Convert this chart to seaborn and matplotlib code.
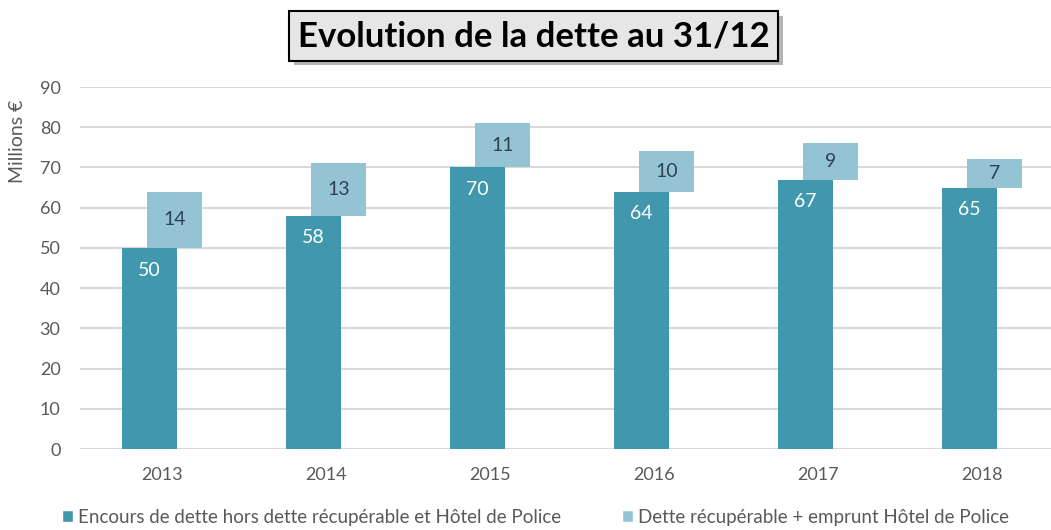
import matplotlib
matplotlib.use("Agg")
import matplotlib.pyplot as plt
import matplotlib.patheffects as pe
from matplotlib.patches import Patch
import numpy as np
import pandas as pd
import seaborn as sns

years = ["2013", "2014", "2015", "2016", "2017", "2018"]
encours = [50, 58, 70, 64, 67, 65]
recup = [14, 13, 11, 10, 9, 7]
serie_names = ["Encours de dette hors dette récupérable et Hôtel de Police",
               "Dette récupérable + emprunt Hôtel de Police"]

dark = "#4197ad"
light = "#94c3d4"
grey_txt = "#595959"

sns.set_style("white")
plt.rcParams["font.family"] = ["Lato", "DejaVu Sans"]

df = pd.DataFrame({"annee": years, "encours": encours, "recup": recup})

fig = plt.figure(figsize=(10.51, 5.30), dpi=100)
ax = fig.add_axes([80 / 1051, 81 / 530, 984 / 1051, 362 / 530])

w = 0.335
off = 0.076
sns.barplot(data=df, x="annee", y="encours", color=dark, width=w,
            saturation=1, linewidth=0, ax=ax, zorder=3)
n = len(ax.patches)
sns.barplot(data=df, x="annee", y="recup", color=light, width=w,
            saturation=1, linewidth=0, ax=ax, zorder=3,
            bottom=df["encours"].values)

for i, p in enumerate(ax.patches):
    if i < n:
        p.set_x(p.get_x() - off)
    else:
        p.set_x(p.get_x() + off)

# etiquettes
for i, p in enumerate(ax.patches):
    cx = p.get_x() + p.get_width() / 2
    if i < n:
        ax.annotate(f"{encours[i]}", (cx, p.get_y() + p.get_height()),
                    xytext=(0, -16), textcoords="offset points",
                    ha="center", va="center", color="white", fontsize=14,
                    zorder=5)
    else:
        j = i - n
        ax.annotate(f"{recup[j]}", (cx, p.get_y() + p.get_height() / 2),
                    ha="center", va="center", color="#2f4252", fontsize=14,
                    zorder=5)

ax.set_xlim(-0.5, 5.5)
ax.set_ylim(0, 90)
ax.set_yticks(range(0, 91, 10))
ax.yaxis.grid(True, color="#d9d9d9", linewidth=1.5, zorder=0)
ax.set_axisbelow(True)
sns.despine(ax=ax, left=True, bottom=True, top=True, right=True)
ax.tick_params(axis="both", length=0, labelsize=13, labelcolor=grey_txt)
ax.tick_params(axis="y", pad=14)
ax.tick_params(axis="x", pad=13)
ax.set_xlabel("")
ax.set_ylabel("")

fig.text(0.0167, 0.734, "Millions €", rotation=90, ha="center", va="center",
         fontsize=14, color=grey_txt)

t = fig.text(0.508, 0.932, "Evolution de la dette au 31/12", ha="center",
             va="center", fontsize=25, fontweight="bold", color="black",
             bbox=dict(boxstyle="square,pad=0.25", facecolor="#e6e6e6",
                       edgecolor="black", linewidth=1.5))
t.get_bbox_patch().set_path_effects([pe.withSimplePatchShadow(offset=(3, -3),
                                                              alpha=0.4)])

handles = [Patch(facecolor=dark, label=serie_names[0]),
           Patch(facecolor=light, label=serie_names[1])]
fig.legend(handles=handles, loc="center", bbox_to_anchor=(0.5095, 0.024),
           ncol=2, frameon=False, fontsize=13.5, labelcolor=grey_txt,
           handlelength=0.6, handleheight=0.6, handletextpad=0.3,
           columnspacing=3.2, borderpad=0)

fig.savefig("out.png", dpi=100)
